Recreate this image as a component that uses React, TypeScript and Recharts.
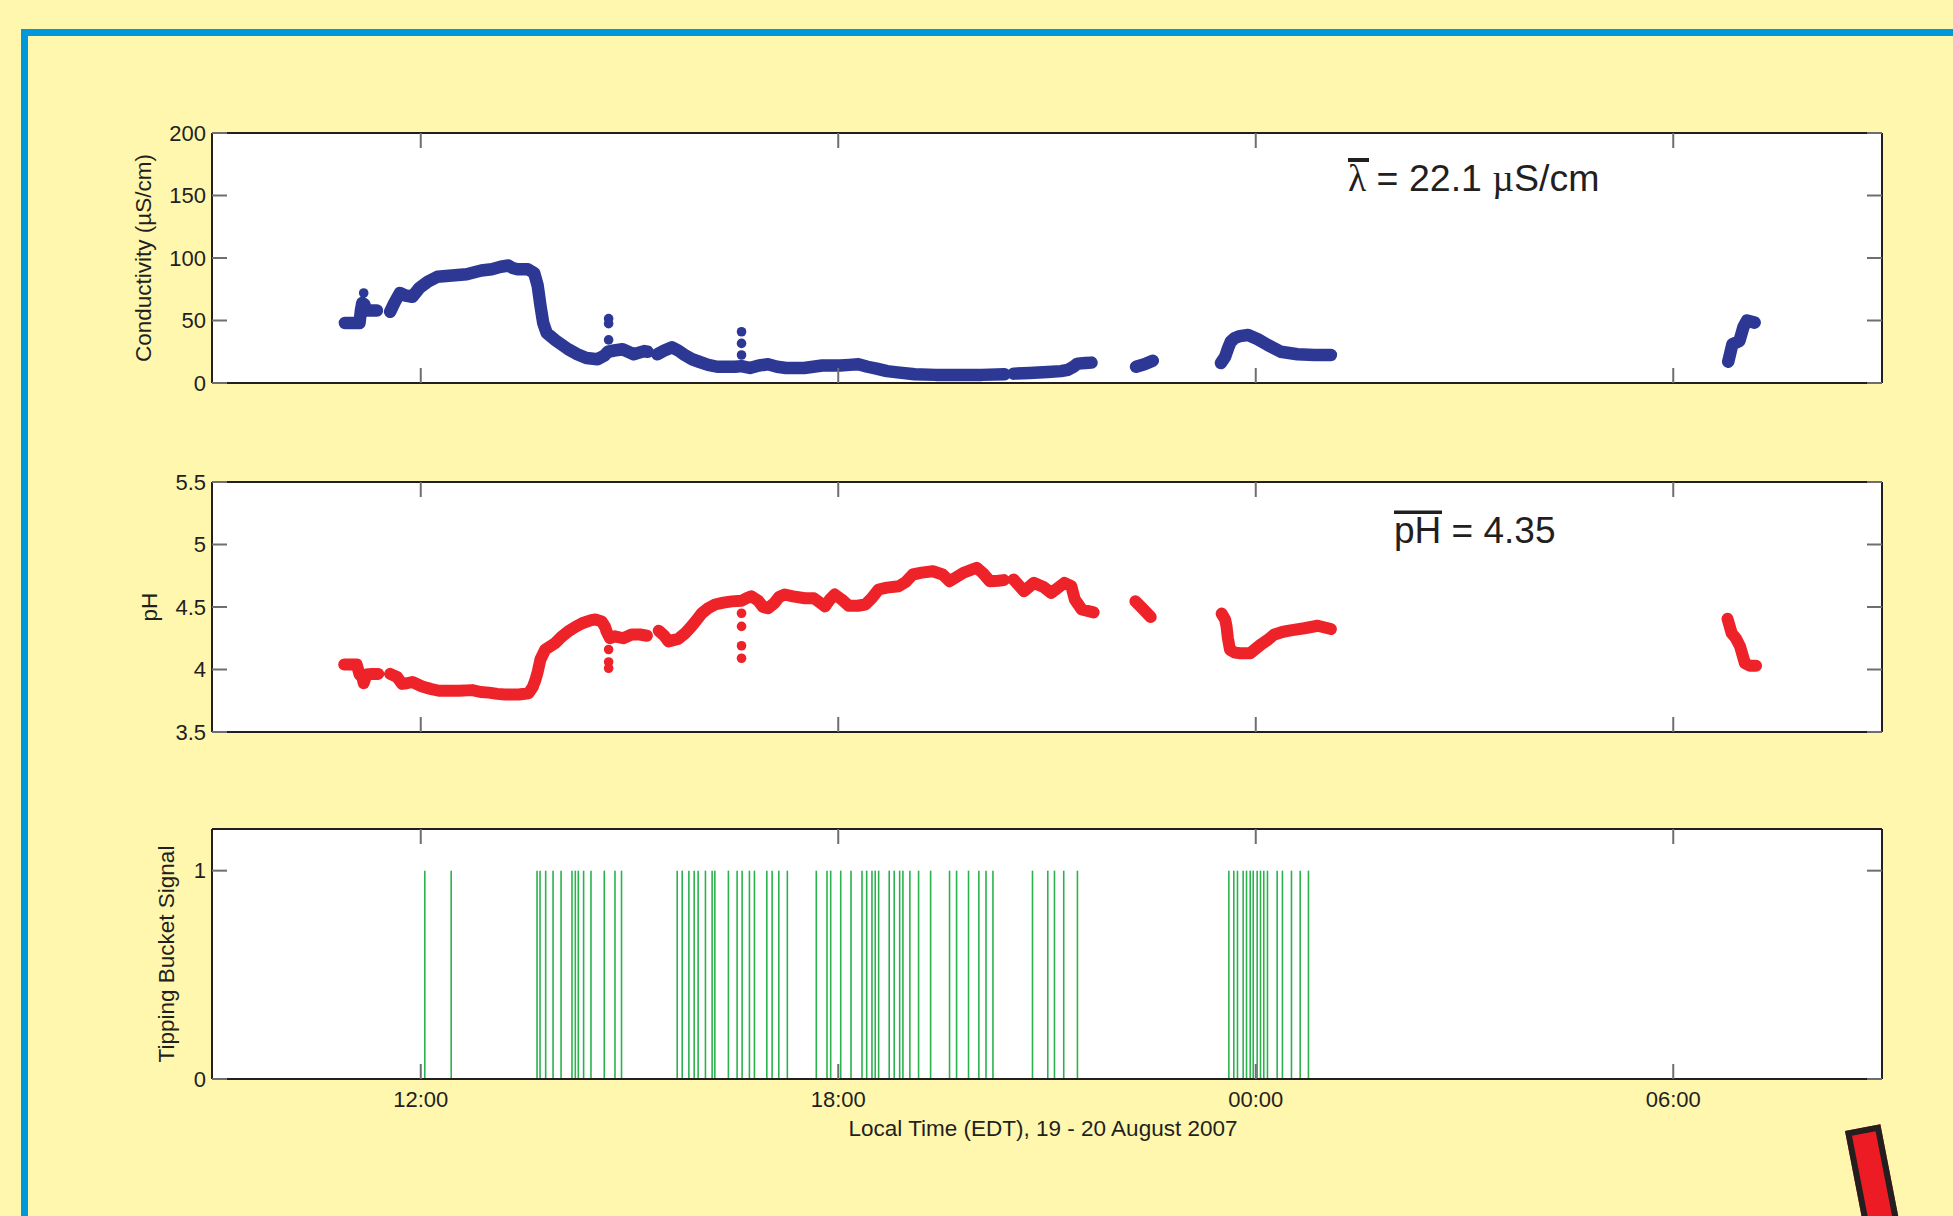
import React from 'react';
import { ComposedChart, Line, Scatter, Bar, XAxis, YAxis, CartesianGrid, Label } from 'recharts';

// ---------- axis ticks ----------
const xTicks = [12, 18, 24, 30];
const xTickLabels = ['12:00', '18:00', '00:00', '06:00'];
const condTicks = [0, 50, 100, 150, 200];
const phTicks = [3.5, 4, 4.5, 5, 5.5];
const bucketTicks = [0, 1];

// ---------- conductivity (µS/cm), hours since 00:00 19 Aug; null = data gap ----------
const condHours = [
  10.91, 11.0, 11.12, 11.14, 11.16, 11.19, 11.21, 11.28, 11.37,
  11.47,
  11.56, 11.62, 11.70, 11.78, 11.88, 11.98, 12.10, 12.24, 12.45, 12.66, 12.87, 13.02, 13.15, 13.26, 13.32, 13.39, 13.54,
  13.63, 13.68, 13.72, 13.76, 13.81, 13.94, 14.12, 14.25, 14.38, 14.54, 14.64, 14.69, 14.78, 14.90, 15.06, 15.21, 15.26,
  15.33,
  15.40, 15.50, 15.61, 15.70, 15.79, 15.90, 16.0, 16.13, 16.26, 16.40, 16.52, 16.61, 16.73, 16.86, 16.99, 17.12, 17.25,
  17.38, 17.51, 17.64, 17.77, 17.90, 18.03, 18.16, 18.29, 18.42, 18.55, 18.70, 18.85, 19.10, 19.40, 19.70, 20.06, 20.39,
  20.46,
  20.52, 20.75, 21.01, 21.20, 21.30, 21.38, 21.44, 21.55, 21.64,
  21.9,
  22.28, 22.40, 22.52,
  23.0,
  23.50, 23.56, 23.60, 23.64, 23.70, 23.77, 23.89, 24.03, 24.17, 24.36, 24.60, 24.84, 25.08,
  28.0,
  30.79, 30.82, 30.85, 30.95, 31.01, 31.06, 31.17,
];
const condValues: (number | null)[] = [
  48, 48, 48, 58, 64, 63, 58, 58, 58,
  null,
  57, 64, 72, 70, 69, 76, 81, 85, 86, 87, 90, 91, 93, 94, 92, 91, 91,
  88, 78, 62, 48, 40, 34, 27, 23, 20, 19, 22, 25, 26, 27, 23, 25.5, 25,
  null,
  23, 26, 28.5, 26, 22.5, 19, 17, 14.5, 13, 13, 13, 13.5, 12, 14, 15, 13, 12,
  12, 12, 13, 14, 14, 14, 14.5, 15, 13, 11.5, 9.5, 8.5, 7, 6.5, 6.5, 6.5, 7,
  null,
  7.5, 8, 8.8, 9.5, 10.5, 13, 15.5, 16, 16.3,
  null,
  13, 15, 17.8,
  null,
  16, 21, 27.5, 33, 36, 37.5, 38.4, 35, 30.5, 25, 23, 22.4, 22.4,
  null,
  17, 24, 31, 33.5, 45, 50, 48.3,
];
const condSpikeHours = [11.18, 14.70, 14.70, 14.70, 16.61, 16.61, 16.61];
const condSpikeValues = [72, 51.5, 47.5, 34.5, 41, 31.7, 22.4];

// ---------- pH ----------
const phHours = [
  10.90, 11.0, 11.08, 11.12, 11.16, 11.18, 11.22, 11.30, 11.39,
  11.47,
  11.56, 11.66, 11.73, 11.80, 11.88, 12.02, 12.14, 12.26, 12.40, 12.55, 12.74, 12.86, 12.98, 13.10, 13.21, 13.41, 13.55,
  13.61, 13.65, 13.68, 13.72, 13.79, 13.93, 14.02, 14.12, 14.22, 14.32, 14.45, 14.51, 14.60, 14.65, 14.67, 14.72, 14.79,
  14.91, 15.03, 15.15, 15.25,
  15.33,
  15.42, 15.50, 15.56, 15.63, 15.70, 15.80, 15.89, 15.97, 16.04, 16.13, 16.23, 16.35, 16.47, 16.61, 16.68, 16.75, 16.85,
  16.92, 16.99, 17.08, 17.15, 17.23, 17.35, 17.52, 17.65, 17.75, 17.81, 17.88, 17.95, 18.05, 18.15, 18.28, 18.39, 18.48,
  18.58, 18.70, 18.87, 18.97, 19.07, 19.20, 19.36, 19.50, 19.60, 19.70, 19.80, 19.99, 20.08, 20.18, 20.30, 20.38,
  20.46,
  20.52, 20.60, 20.67, 20.81, 20.95, 21.06, 21.15, 21.25, 21.35, 21.40, 21.50, 21.67,
  21.9,
  22.27, 22.37, 22.49,
  23.0,
  23.51, 23.56, 23.58, 23.60, 23.63, 23.70, 23.78, 23.92, 24.07, 24.18, 24.26, 24.38, 24.50, 24.70, 24.89, 25.08,
  28.0,
  30.78, 30.84, 30.90, 30.96, 31.03, 31.10, 31.19,
];
const phValues: (number | null)[] = [
  4.04, 4.04, 4.04, 3.96, 3.94, 3.89, 3.96, 3.965, 3.965,
  null,
  3.965, 3.94, 3.885, 3.89, 3.90, 3.864, 3.845, 3.83, 3.83, 3.83, 3.835, 3.82, 3.815, 3.805, 3.80, 3.80, 3.81,
  3.86, 3.92, 3.98, 4.08, 4.16, 4.21, 4.26, 4.305, 4.34, 4.37, 4.395, 4.40, 4.385, 4.34, 4.305, 4.25, 4.265,
  4.25, 4.28, 4.28, 4.27,
  null,
  4.31, 4.27, 4.225, 4.235, 4.245, 4.29, 4.345, 4.40, 4.45, 4.49, 4.52, 4.535, 4.545, 4.55, 4.57, 4.586, 4.55,
  4.50, 4.49, 4.53, 4.58, 4.60, 4.585, 4.57, 4.57, 4.53, 4.505, 4.56, 4.60, 4.56, 4.51, 4.51, 4.52, 4.57,
  4.64, 4.655, 4.666, 4.70, 4.76, 4.775, 4.786, 4.76, 4.706, 4.74, 4.774, 4.814, 4.77, 4.706, 4.71, 4.715,
  null,
  4.72, 4.67, 4.626, 4.693, 4.66, 4.613, 4.65, 4.693, 4.666, 4.56, 4.48, 4.457,
  null,
  4.546, 4.49, 4.42,
  null,
  4.447, 4.40, 4.345, 4.25, 4.158, 4.135, 4.13, 4.13, 4.198, 4.24, 4.278, 4.30, 4.313, 4.33, 4.35, 4.324,
  null,
  4.405, 4.29, 4.25, 4.185, 4.05, 4.03, 4.03,
];
const phSpikeHours = [14.70, 14.70, 14.70, 16.61, 16.61, 16.61, 16.61];
const phSpikeValues = [4.16, 4.06, 4.01, 4.45, 4.345, 4.19, 4.09];

// ---------- tipping bucket tips (hours) ----------
const bucketHours = [
  12.052, 12.431, 13.665, 13.708, 13.789, 13.895, 14.010, 14.167, 14.215, 14.258, 14.334, 14.440, 14.631, 14.785, 14.879,
  15.679, 15.751, 15.847, 15.923, 15.980, 16.085, 16.181, 16.220, 16.415, 16.540, 16.612, 16.717, 16.789, 16.967, 17.043,
  17.139, 17.262, 17.678, 17.832, 17.885, 18.029, 18.177, 18.335, 18.402, 18.478, 18.525, 18.574, 18.726, 18.798, 18.876,
  18.923, 19.023, 19.148, 19.321, 19.593, 19.694, 19.866, 20.014, 20.117, 20.217, 20.785, 21.005, 21.101, 21.234, 21.431,
  23.607, 23.678, 23.731, 23.813, 23.861, 23.914, 23.957, 24.014, 24.062, 24.109, 24.162, 24.301, 24.377, 24.507, 24.632,
  24.751,
];
const bucketValues = bucketHours.map(() => 1);

// ---------- styling ----------
const FONT = '"Liberation Sans", Arial, Helvetica, sans-serif';
const SERIF = '"Liberation Serif", "Times New Roman", serif';
const INK = '#231F20';
const TICK_GRAY = '#6D6E71';
const BG = '#FFF7AE';
const BLUE_FRAME = '#0098DA';
const COND_BLUE = '#2C3894';
const PH_RED = '#EE2229';
const GREEN = '#2AB34C';

type Pt = { t: number; v: number | null };
const toPoints = (h: number[], v: (number | null)[]): Pt[] => h.map((t, i) => ({ t, v: v[i] }));

const condData = toPoints(condHours, condValues);
const condSpikes = toPoints(condSpikeHours, condSpikeValues);
const phData = toPoints(phHours, phValues);
const phSpikes = toPoints(phSpikeHours, phSpikeValues);
const bucketData = toPoints(bucketHours, bucketValues);

const xFmt = (v: number) => xTickLabels[xTicks.indexOf(v)] ?? '';
const blank = () => '';
const tickStyle = { fontSize: 22, fill: INK, fontFamily: FONT };
const tickLineStyle = { stroke: TICK_GRAY, strokeWidth: 2 };
const axisLineStyle = { stroke: INK, strokeWidth: 2 };

const makeYTitle = (text: string, bx: number) => (p: any) => {
  const vb = p.viewBox || { x: 0, y: 0, width: 0, height: 0 };
  const cy = vb.y + vb.height / 2;
  return (
    <text x={bx} y={cy} transform={`rotate(-90 ${bx} ${cy})`} textAnchor="middle" fontSize={22.5} fill={INK} fontFamily={FONT}>
      {text}
    </text>
  );
};

const xTitle = (p: any) => {
  const vb = p.viewBox || { x: 0, y: 0, width: 0, height: 0 };
  return (
    <text x={vb.x + vb.width / 2 - 4} y={vb.y + 57} textAnchor="middle" fontSize={22.5} fill={INK} fontFamily={FONT}>
      Local Time (EDT), 19 - 20 August 2007
    </text>
  );
};

const dotShape = (color: string) => (p: any) => <circle cx={p.cx} cy={p.cy} r={4.8} fill={color} />;
const noShape = () => <g />;

function Panel(props: {
  top: number; height: number; bottomH: number; data: Pt[]; yDomain: [number, number]; yTicks: number[];
  yTitle: string; yTitleX: number; xLabels: boolean; children: React.ReactNode;
}) {
  const { top, height, bottomH, data, yDomain, yTicks, yTitle, yTitleX, xLabels, children } = props;
  return (
    <div style={{ position: 'absolute', left: 0, top, width: 1953, height }}>
      <ComposedChart width={1953} height={height} data={data} margin={{ top: 0, right: 0, bottom: 0, left: 0 }}>
        <CartesianGrid horizontal={false} vertical={false} fill="#FFFFFF" stroke="none" />
        <XAxis dataKey="t" type="number" domain={[9, 33]} allowDataOverflow ticks={xTicks} interval={0} height={bottomH}
          tickSize={-15} tickMargin={27} tickLine={tickLineStyle} axisLine={axisLineStyle} tick={tickStyle}
          tickFormatter={xLabels ? xFmt : blank}>
          {xLabels ? <Label content={xTitle} /> : null}
        </XAxis>
        <XAxis xAxisId="top" dataKey="t" orientation="top" type="number" domain={[9, 33]} allowDataOverflow ticks={xTicks} interval={0} height={20}
          tickSize={-15} tickLine={tickLineStyle} axisLine={axisLineStyle} tick={tickStyle} tickFormatter={blank} />
        <YAxis dataKey="v" type="number" domain={yDomain} allowDataOverflow ticks={yTicks} interval={0} width={212}
          tickSize={-15} tickMargin={21} tickLine={tickLineStyle} axisLine={axisLineStyle} tick={tickStyle}>
          <Label content={makeYTitle(yTitle, yTitleX)} />
        </YAxis>
        <YAxis yAxisId="r" dataKey="v" orientation="right" type="number" domain={yDomain} allowDataOverflow ticks={yTicks} interval={0} width={71}
          tickSize={-15} tickLine={tickLineStyle} axisLine={axisLineStyle} tick={tickStyle} tickFormatter={blank} />
        <Scatter xAxisId="top" yAxisId="r" data={data.filter((d) => d.v != null)} dataKey="v" shape={noShape} isAnimationActive={false} />
        {children}
      </ComposedChart>
    </div>
  );
}

export default function App() {
  return (
    <div style={{ position: 'absolute', left: 0, top: 0, width: 1953, height: 1216, background: BG, overflow: 'hidden', fontFamily: FONT }}>
      <div style={{ position: 'absolute', left: 21, top: 29, width: 2100, height: 1400, borderLeft: `7px solid ${BLUE_FRAME}`, borderTop: `7px solid ${BLUE_FRAME}` }} />

      <Panel top={113} height={290} bottomH={20} data={condData} yDomain={[0, 200]} yTicks={condTicks} yTitle="Conductivity (µS/cm)" yTitleX={151} xLabels={false}>
        <Line data={condData} dataKey="v" stroke={COND_BLUE} strokeWidth={12.5} strokeLinecap="round" strokeLinejoin="round"
          dot={false} activeDot={false} connectNulls={false} isAnimationActive={false} type="linear" />
        <Scatter data={condSpikes} dataKey="v" fill={COND_BLUE} shape={dotShape(COND_BLUE)} isAnimationActive={false} />
      </Panel>

      <Panel top={462} height={290} bottomH={20} data={phData} yDomain={[3.5, 5.5]} yTicks={phTicks} yTitle="pH" yTitleX={156.5} xLabels={false}>
        <Line data={phData} dataKey="v" stroke={PH_RED} strokeWidth={12} strokeLinecap="round" strokeLinejoin="round"
          dot={false} activeDot={false} connectNulls={false} isAnimationActive={false} type="linear" />
        <Scatter data={phSpikes} dataKey="v" fill={PH_RED} shape={dotShape(PH_RED)} isAnimationActive={false} />
      </Panel>

      <Panel top={809} height={350} bottomH={80} data={bucketData} yDomain={[0, 1.2]} yTicks={bucketTicks} yTitle="Tipping Bucket Signal" yTitleX={174} xLabels={true}>
        <Bar dataKey="v" fill={GREEN} barSize={1.6} isAnimationActive={false} />
      </Panel>

      <svg style={{ position: 'absolute', left: 0, top: 0 }} width={1953} height={1216}>
        <text x={1348} y={191} fontSize={37.5} fill={INK} fontFamily={FONT}>
          <tspan fontFamily={SERIF}>λ</tspan> = 22.1 <tspan fontFamily={SERIF}>µ</tspan>S/cm
        </text>
        <rect x={1348} y={158} width={21} height={4} fill={INK} />
        <text x={1394} y={543} fontSize={37} fill={INK} fontFamily={FONT}>pH = 4.35</text>
        <rect x={1394} y={510.5} width={48} height={3.5} fill={INK} />
      </svg>

      <div style={{ position: 'absolute', left: 1845, top: 1131, width: 36, height: 140, background: '#ED1C24', border: `6px solid ${INK}`, boxSizing: 'border-box', transformOrigin: '0 0', transform: 'rotate(-11deg)' }} />
    </div>
  );
}
